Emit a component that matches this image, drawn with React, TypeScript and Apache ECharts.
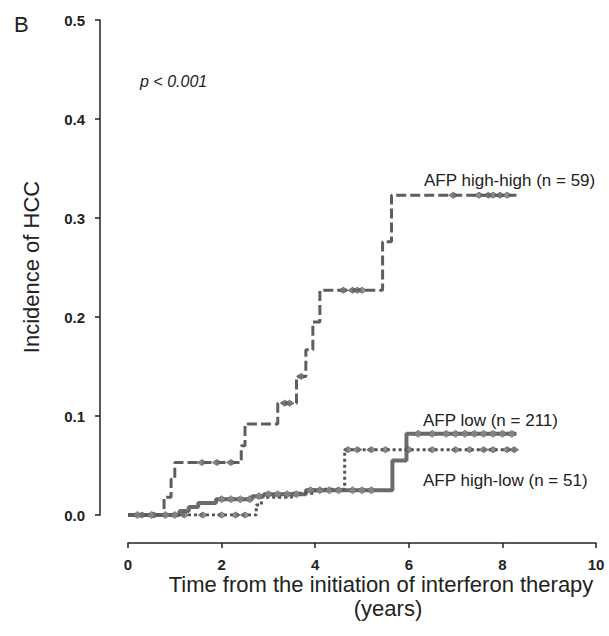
import React, { useEffect, useRef } from "react";
import * as echarts from "echarts";

// Step curves: [time (years), cumulative incidence from that time on]
const highHighSteps: [number, number][] = [
  [0, 0], [0.77, 0.018], [0.92, 0.036], [1.0, 0.053], [2.42, 0.07], [2.5, 0.092],
  [3.2, 0.113], [3.6, 0.14], [3.8, 0.167], [3.95, 0.195], [4.1, 0.227],
  [5.44, 0.276], [5.63, 0.323], [8.3, 0.323],
];
const lowSteps: [number, number][] = [
  [0, 0], [1.1, 0.004], [1.3, 0.008], [1.5, 0.012], [1.88, 0.016], [2.65, 0.019],
  [2.9, 0.021], [3.8, 0.025], [5.65, 0.055], [5.95, 0.082], [8.3, 0.082],
];
const highLowSteps: [number, number][] = [
  [0, 0], [2.74, 0.01], [2.85, 0.018], [3.5, 0.022], [4.0, 0.026], [4.63, 0.066],
  [8.3, 0.066],
];

// Censoring times (years)
const highHighCensor = [0.3, 0.55, 1.58, 1.9, 2.2, 3.35, 3.45, 3.7, 4.6, 4.8, 4.9, 5.0, 6.95, 7.5, 7.7, 7.8, 7.95, 8.1];
const lowCensor = [0.2, 0.5, 0.8, 1.0, 2.0, 2.2, 2.4, 2.6, 2.8, 3.0, 3.2, 3.4, 3.6, 3.9, 4.1, 4.3, 4.5, 4.8, 5.0, 5.2, 6.2, 6.5, 6.8, 7.0, 7.2, 7.4, 7.6, 7.8, 8.0, 8.2];
const highLowCensor = [1.2, 1.6, 2.0, 2.3, 2.5, 4.7, 4.9, 5.2, 5.5, 6.0, 6.5, 7.0, 7.3, 7.6, 7.8, 8.1, 8.25];

const xTicks = [0, 2, 4, 6, 8, 10];
const yTicks = [0, 0.1, 0.2, 0.3, 0.4, 0.5];

const seriesLabels = ["AFP high-high (n = 59)", "AFP low (n = 211)", "AFP high-low (n = 51)"];

const FONT = "Liberation Sans, Arial, sans-serif";

function valueAt(steps: [number, number][], t: number): number {
  let v = steps[0][1];
  for (const [x, y] of steps) {
    if (x <= t) v = y;
  }
  return v;
}

export default function App() {
  const ref = useRef<HTMLDivElement>(null);
  useEffect(() => {
    if (!ref.current) return;
    const chart = echarts.init(ref.current, null, { renderer: "svg" });
    const censor = (steps: [number, number][], times: number[]) =>
      times.map((t) => [t, valueAt(steps, t)]);
    chart.setOption({
      animation: false,
      backgroundColor: "#ffffff",
      grid: { left: 128, right: 13, top: 20, bottom: 121 },
      xAxis: {
        type: "value",
        min: 0,
        max: 10,
        interval: 2,
        offset: 28,
        axisLine: { show: true, onZero: false, lineStyle: { color: "#222", width: 1.5 } },
        axisTick: { show: true, length: 5, lineStyle: { color: "#222", width: 1.5 } },
        splitLine: { show: false },
        axisLabel: {
          margin: 14,
          fontFamily: FONT,
          fontWeight: "bold",
          fontSize: 15,
          color: "#222",
          formatter: (v: number) => (xTicks.includes(v) ? String(v) : ""),
        },
      },
      yAxis: {
        type: "value",
        min: 0,
        max: 0.5,
        interval: 0.1,
        offset: 28,
        axisLine: { show: true, onZero: false, lineStyle: { color: "#222", width: 1.5 } },
        axisTick: { show: true, length: 5, lineStyle: { color: "#222", width: 1.5 } },
        splitLine: { show: false },
        axisLabel: {
          margin: 15,
          fontFamily: FONT,
          fontWeight: "bold",
          fontSize: 15,
          color: "#222",
          formatter: (v: number) => {
            const m = yTicks.find((t) => Math.abs(t - v) < 1e-9);
            return m === undefined ? "" : m.toFixed(1);
          },
        },
      },
      graphic: [
        { type: "text", x: 14, y: 24, style: { text: "B", font: `22px ${FONT}`, fill: "#222", verticalAlign: "middle" } },
        { type: "text", x: 140, y: 81, style: { text: "p < 0.001", font: `italic 16px ${FONT}`, fill: "#222", verticalAlign: "middle" } },
        {
          type: "text", x: 31, y: 267, rotation: Math.PI / 2,
          style: { text: "Incidence of HCC", font: `22px ${FONT}`, fill: "#222", align: "center", verticalAlign: "middle" },
        },
        {
          type: "text", x: 381, y: 584,
          style: { text: "Time from the initiation of interferon therapy", font: `22px ${FONT}`, fill: "#222", align: "center", verticalAlign: "middle" },
        },
        {
          type: "text", x: 388, y: 608,
          style: { text: "(years)", font: `22px ${FONT}`, fill: "#222", align: "center", verticalAlign: "middle" },
        },
        { type: "text", x: 424, y: 180, style: { text: seriesLabels[0], font: `17px ${FONT}`, fill: "#222", verticalAlign: "middle" } },
        { type: "text", x: 423, y: 420, style: { text: seriesLabels[1], font: `17px ${FONT}`, fill: "#222", verticalAlign: "middle" } },
        { type: "text", x: 423, y: 480, style: { text: seriesLabels[2], font: `17px ${FONT}`, fill: "#222", verticalAlign: "middle" } },
      ],
      series: [
        {
          name: seriesLabels[2], type: "line", step: "end", showSymbol: false, symbol: "none",
          data: highLowSteps, lineStyle: { color: "#555", width: 3, type: "dotted" }, z: 3,
        },
        {
          name: seriesLabels[1], type: "line", step: "end", showSymbol: false, symbol: "none",
          data: lowSteps, lineStyle: { color: "#6b6b6b", width: 4, type: "solid" }, z: 2,
        },
        {
          name: seriesLabels[0], type: "line", step: "end", showSymbol: false, symbol: "none",
          data: highHighSteps, lineStyle: { color: "#5e5e5e", width: 3, type: [10, 4] }, z: 4,
        },
        {
          type: "scatter", symbol: "diamond", symbolSize: [9, 6], data: censor(highHighSteps, highHighCensor),
          itemStyle: { color: "#777", borderColor: "#444", borderWidth: 0.8 }, z: 5,
        },
        {
          type: "scatter", symbol: "diamond", symbolSize: [9, 7], data: censor(lowSteps, lowCensor),
          itemStyle: { color: "#888", borderColor: "#555", borderWidth: 0.8 }, z: 5,
        },
        {
          type: "scatter", symbol: "diamond", symbolSize: [9, 6], data: censor(highLowSteps, highLowCensor),
          itemStyle: { color: "#777", borderColor: "#444", borderWidth: 0.8 }, z: 5,
        },
      ],
    });
    return () => chart.dispose();
  }, []);
  return <div ref={ref} style={{ width: 609, height: 636, position: "absolute", left: 0, top: 0 }} />;
}
